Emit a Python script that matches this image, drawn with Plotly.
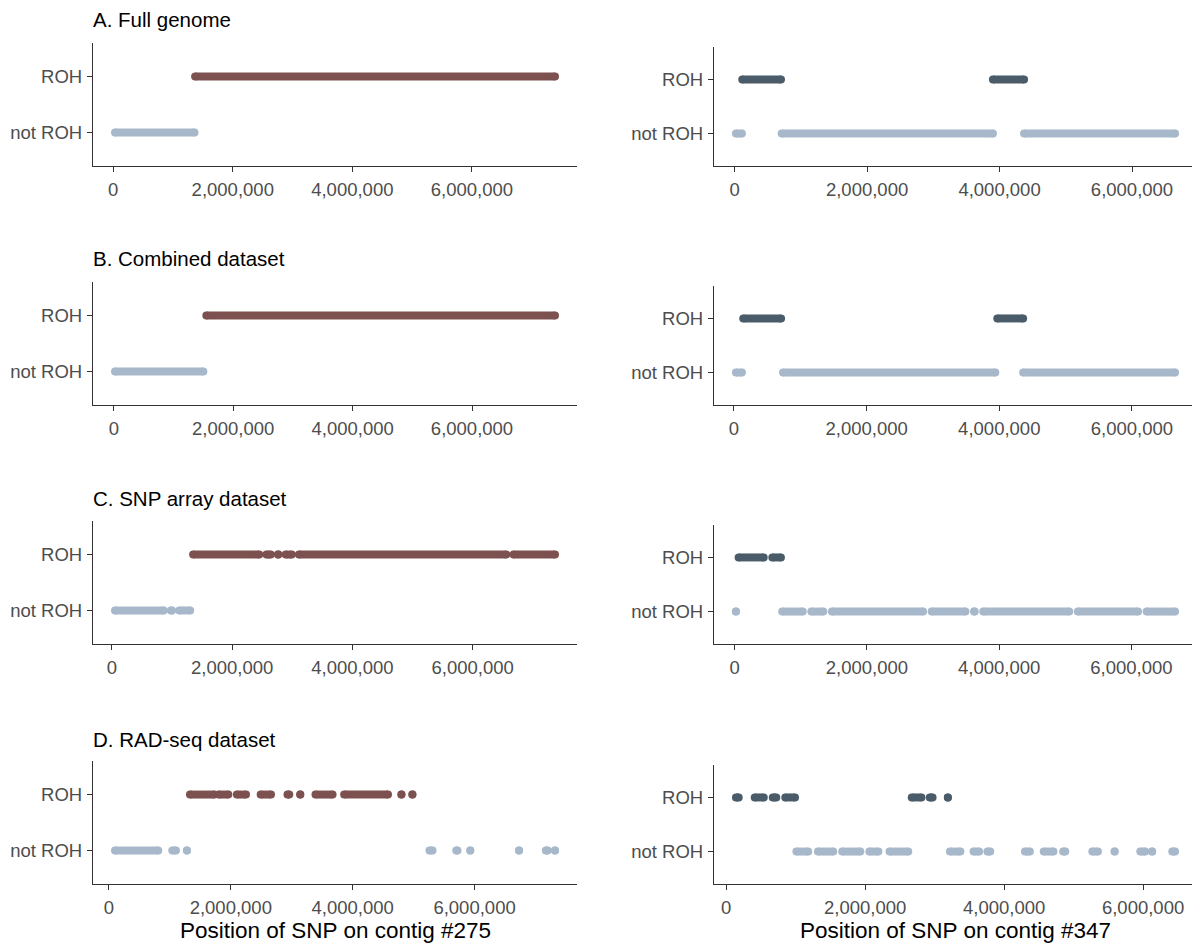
import plotly.graph_objects as go

# The page adds an 8px body margin, so the figure is drawn 8px smaller and
# all screen-pixel positions below are shifted by that margin.
PAGE_MARGIN = 8
W, H = 1200 - PAGE_MARGIN, 944 - PAGE_MARGIN

# ---------------- DATA (positions in bp) ----------------
# Each entry is a run of consecutive SNP calls: (first position, last position).
# A run with first == last is a single SNP.
CONTIG_LEFT = "#275"
CONTIG_RIGHT = "#347"
PANEL_TITLES = ["A. Full genome", "B. Combined dataset", "C. SNP array dataset", "D. RAD-seq dataset"]
Y_CATEGORIES = ["not ROH", "ROH"]
X_TICKS = [0, 2_000_000, 4_000_000, 6_000_000]

# A. Full genome
A275_ROH = [(1_370_000, 7_390_000)]
A275_NOT = [(30_000, 1_360_000)]
A347_ROH = [(115_000, 700_000), (3_900_000, 4_370_000)]
A347_NOT = [(20_000, 110_000), (710_000, 3_900_000), (4_370_000, 6_650_000)]

# B. Combined dataset
B275_ROH = [(1_550_000, 7_390_000)]
B275_NOT = [(20_000, 1_500_000)]
B347_ROH = [(140_000, 710_000), (3_970_000, 4_360_000)]
B347_NOT = [(30_000, 120_000), (740_000, 3_940_000), (4_360_000, 6_650_000)]

# C. SNP array dataset
C275_ROH = [(1_350_000, 2_450_000), (2_570_000, 2_640_000), (2_760_000, 2_770_000),
            (2_890_000, 2_990_000), (3_110_000, 6_560_000), (6_680_000, 7_370_000)]
C275_NOT = [(50_000, 860_000), (980_000, 1_000_000), (1_120_000, 1_300_000)]
C347_ROH = [(60_000, 440_000), (570_000, 700_000)]
C347_NOT = [(20_000, 20_000), (720_000, 1_030_000), (1_160_000, 1_340_000), (1_470_000, 2_850_000),
            (2_980_000, 3_490_000), (3_620_000, 3_630_000), (3_760_000, 5_060_000),
            (5_190_000, 6_100_000), (6_230_000, 6_660_000)]

# D. RAD-seq dataset
D275_ROH = [(1_330_000, 1_730_000), (1_800_000, 1_960_000), (2_100_000, 2_250_000),
            (2_490_000, 2_660_000), (2_930_000, 2_960_000), (3_140_000, 3_140_000),
            (3_390_000, 3_670_000), (3_860_000, 4_580_000), (4_800_000, 4_800_000),
            (4_980_000, 4_980_000)]
D275_NOT = [(100_000, 810_000), (1_040_000, 1_100_000), (1_280_000, 1_280_000),
            (5_260_000, 5_310_000), (5_700_000, 5_720_000), (5_930_000, 5_930_000),
            (6_730_000, 6_730_000), (7_170_000, 7_200_000), (7_320_000, 7_320_000)]
D347_ROH = [(140_000, 180_000), (410_000, 540_000), (670_000, 720_000), (850_000, 990_000),
            (2_670_000, 2_810_000), (2_930_000, 2_970_000), (3_190_000, 3_190_000)]
D347_NOT = [(1_010_000, 1_180_000), (1_320_000, 1_540_000), (1_670_000, 1_930_000),
            (2_060_000, 2_190_000), (2_350_000, 2_620_000), (3_220_000, 3_370_000),
            (3_560_000, 3_640_000), (3_760_000, 3_800_000), (4_300_000, 4_370_000),
            (4_570_000, 4_710_000), (4_850_000, 4_880_000), (5_270_000, 5_350_000),
            (5_590_000, 5_590_000), (5_960_000, 6_030_000), (6_130_000, 6_130_000),
            (6_420_000, 6_460_000)]

LEFT_PANELS = [(A275_NOT, A275_ROH), (B275_NOT, B275_ROH), (C275_NOT, C275_ROH), (D275_NOT, D275_ROH)]
RIGHT_PANELS = [(A347_NOT, A347_ROH), (B347_NOT, B347_ROH), (C347_NOT, C347_ROH), (D347_NOT, D347_ROH)]

# ---------------- STYLE ----------------
COL_NOT = "#A8B8CB"
COL_ROH_LEFT = "#7C5150"
COL_ROH_RIGHT = "#4A5C69"
FONT = "Liberation Sans, Arial, sans-serif"
TICK_COLOR = "#4D4D4D"
AXIS_COLOR = "#333333"
DOT = 8

# layout in screen pixels (reference picture)
ROW_BOTTOMS = [166, 405, 644, 884]
LEFT_H = 123
RIGHT_H = 119
LEFT_X = (93, 577)
RIGHT_X = (714, 1197)
TITLE_Y = [20, 259, 498, 739]
TITLE_X = 91
AXIS_TITLE_Y = 930


def fx(px):
    return (px - PAGE_MARGIN) / W


def fy(py):
    return 1 - (py - PAGE_MARGIN) / H


def segs_to_x(segs):
    xs = []
    for s, e in segs:
        xs += [s, e, None]
    return xs


fig = go.Figure()
layout = {}
annotations = []

idx = 0
for row in range(4):
    for col in range(2):
        idx += 1
        not_segs, roh_segs = (LEFT_PANELS if col == 0 else RIGHT_PANELS)[row]
        roh_col = COL_ROH_LEFT if col == 0 else COL_ROH_RIGHT
        xa = "x" if idx == 1 else f"x{idx}"
        ya = "y" if idx == 1 else f"y{idx}"
        for segs, cat, color in [(not_segs, "not ROH", COL_NOT), (roh_segs, "ROH", roh_col)]:
            xs = segs_to_x(segs)
            ys = [cat if v is not None else None for v in xs]
            fig.add_trace(go.Scatter(
                x=xs, y=ys, mode="lines+markers",
                line=dict(color=color, width=DOT),
                marker=dict(color=color, size=DOT, line=dict(width=0)),
                xaxis=xa, yaxis=ya, showlegend=False, hoverinfo="skip",
                connectgaps=False,
            ))
        allv = [v for s in not_segs + roh_segs for v in s]
        lo, hi = min(allv), max(allv)
        pad = 0.05 * (hi - lo)
        px0, px1 = LEFT_X if col == 0 else RIGHT_X
        bottom = ROW_BOTTOMS[row]
        top = bottom - (LEFT_H if col == 0 else RIGHT_H)
        xkey = "xaxis" if idx == 1 else f"xaxis{idx}"
        ykey = "yaxis" if idx == 1 else f"yaxis{idx}"
        layout[xkey] = dict(
            domain=[fx(px0), fx(px1)], anchor=ya, range=[lo - pad, hi + pad],
            tickvals=X_TICKS, tickformat=",d", showgrid=False, zeroline=False,
            showline=True, linecolor=AXIS_COLOR, linewidth=1.3,
            ticks="outside", ticklen=5, tickwidth=1.3, tickcolor=AXIS_COLOR,
            tickfont=dict(family=FONT, size=18.5, color=TICK_COLOR),
            ticklabelstandoff=2, fixedrange=True,
        )
        layout[ykey] = dict(
            domain=[fy(bottom), fy(top)], anchor=xa,
            type="category", categoryorder="array", categoryarray=Y_CATEGORIES,
            range=[-0.6, 1.6], showgrid=False, zeroline=False,
            showline=True, linecolor=AXIS_COLOR, linewidth=1.3,
            ticks="outside", ticklen=5, tickwidth=1.3, tickcolor=AXIS_COLOR,
            tickfont=dict(family=FONT, size=18.5, color=TICK_COLOR),
            ticklabelstandoff=1, fixedrange=True,
        )
    annotations.append(dict(
        text=PANEL_TITLES[row], xref="paper", yref="paper",
        x=fx(TITLE_X), y=fy(TITLE_Y[row]), xanchor="left", yanchor="middle",
        showarrow=False, font=dict(family=FONT, size=20.5, color="#000000"),
    ))

for contig, (px0, px1) in [(CONTIG_LEFT, LEFT_X), (CONTIG_RIGHT, RIGHT_X)]:
    annotations.append(dict(
        text=f"Position of SNP on contig {contig}", xref="paper", yref="paper",
        x=fx((px0 + px1) / 2), y=fy(AXIS_TITLE_Y), xanchor="center", yanchor="middle",
        showarrow=False, font=dict(family=FONT, size=22.5, color="#000000"),
    ))

fig.update_layout(
    width=W, height=H, margin=dict(l=0, r=0, t=0, b=0),
    paper_bgcolor="white", plot_bgcolor="white",
    annotations=annotations, showlegend=False,
    **layout,
)

fig.write_html("out.html", config={"displayModeBar": False})
